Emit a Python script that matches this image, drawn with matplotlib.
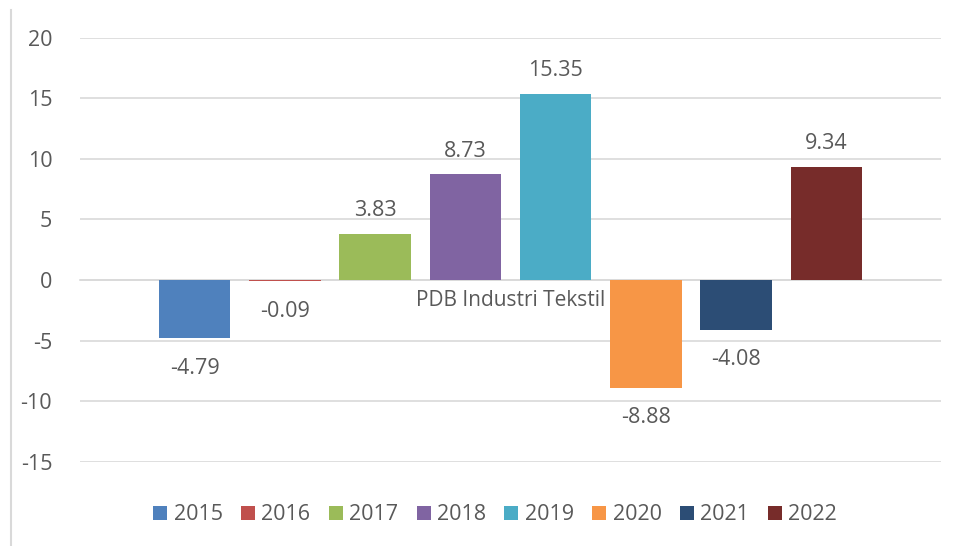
import matplotlib
matplotlib.use("Agg")
import matplotlib.pyplot as plt
from matplotlib.lines import Line2D
import numpy as np

years = ["2015", "2016", "2017", "2018", "2019", "2020", "2021", "2022"]
values = [-4.79, -0.09, 3.83, 8.73, 15.35, -8.88, -4.08, 9.34]
colors = ["#4F81BD", "#C0504D", "#9BBB59", "#8064A2", "#4BACC6", "#F79646", "#2C4D75", "#772C2A"]
category = "PDB Industri Tekstil"
yticks = [-15, -10, -5, 0, 5, 10, 15, 20]

plt.rcParams['font.family'] = ['Open Sans', 'DejaVu Sans']
plt.rcParams['axes.unicode_minus'] = False
txt = "#595959"
fs = 15.5

fig = plt.figure(figsize=(9.57, 5.46), dpi=100)
ax = fig.add_axes([80/957, 1-462/546, (941-80)/957, (462-37.5)/546])

x = np.arange(len(years))
for i, (y, v, c) in enumerate(zip(years, values, colors)):
    ax.bar(x[i], v, width=0.79, color=c, label=y, zorder=3)
    off = 9 if v >= 0 else -14
    ax.annotate(f"{v:.2f}", (x[i], v), xytext=(0, off), textcoords="offset points",
                ha="center", va="bottom" if v >= 0 else "top", fontsize=fs, color=txt)

ax.set_xlim(-1.27, len(years) - 1 + 1.27)
ax.set_ylim(-15, 20)
ax.set_yticks(yticks)
ax.yaxis.grid(True, color="#d9d9d9", linewidth=1.2, zorder=0)
ax.tick_params(axis="y", length=0, pad=20, labelsize=fs, labelcolor=txt)
for s in ["left", "right", "top"]:
    ax.spines[s].set_visible(False)
ax.spines["bottom"].set_position(("data", 0))
ax.spines["bottom"].set_color("#d9d9d9")
ax.spines["bottom"].set_linewidth(1.2)
ax.set_xticks([(len(years) - 1) / 2])
ax.set_xticklabels([category])
ax.tick_params(axis="x", length=0, pad=7, labelsize=15, labelcolor=txt)

leg = fig.legend(loc="center", bbox_to_anchor=(495/957, 1-515/546), ncol=8, frameon=False,
                 fontsize=fs, handlelength=0.65, handleheight=0.65, handletextpad=0.3,
                 columnspacing=0.85, labelcolor=txt)

fig.add_artist(Line2D([10.5/957, 10.5/957], [0, 1-10/546], transform=fig.transFigure,
                      color="#d9d9d9", linewidth=1.5))

fig.savefig("out.png", dpi=100)
